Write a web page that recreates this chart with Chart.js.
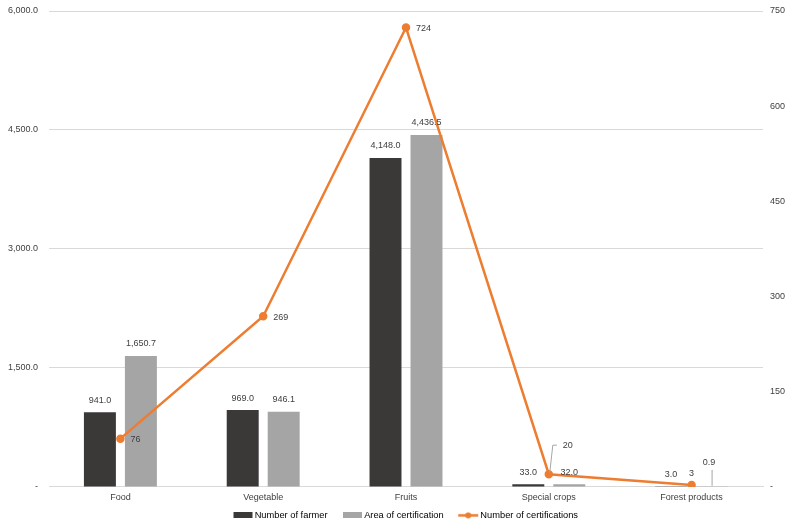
<!DOCTYPE html>
<html>
<head>
<meta charset="utf-8">
<script src="https://cdn.jsdelivr.net/npm/chart.js@4"></script>
<style>
  html, body { margin: 0; padding: 0; background: #fff; }
  #wrap { width: 799px; height: 532px; }
</style>
</head>
<body>
<div id="wrap"><canvas id="myChart" width="799" height="532"></canvas></div>
<script>
var categories = ["Food", "Vegetable", "Fruits", "Special crops", "Forest products"];
var farmers = [941.0, 969.0, 4148.0, 33.0, 3.0];
var areas = [1650.7, 946.1, 4436.5, 32.0, 0.9];
var certifications = [76, 269, 724, 20, 3];
var leftTicks = [0, 1500, 3000, 4500, 6000];
var rightTicks = [0, 150, 300, 450, 600, 750];

var FONT = "'Liberation Sans', Arial, sans-serif";
var ORANGE = "#ed7d31";

function fmt1(v) {
    return v.toLocaleString("en-US", {minimumFractionDigits: 1, maximumFractionDigits: 1});
}

// legend marker images, drawn toward the right so the text sits close
function boxImg(color) {
    var c = document.createElement("canvas");
    c.width = 38; c.height = 6;
    var g = c.getContext("2d");
    g.fillStyle = color;
    g.fillRect(17, 0, 19, 6);
    return c;
}
function lineImg() {
    var c = document.createElement("canvas");
    c.width = 38; c.height = 7;
    var g = c.getContext("2d");
    g.strokeStyle = ORANGE; g.lineWidth = 2.5;
    g.beginPath(); g.moveTo(16, 3.5); g.lineTo(36, 3.5); g.stroke();
    g.fillStyle = ORANGE;
    g.beginPath(); g.arc(26, 3.5, 3, 0, Math.PI * 2); g.fill();
    return c;
}

// label tweaks: key "dataset:index"
var labelTweaks = {
    "1:4": {dx: -3, dy: -12, leader: "bar"},
    "2:3": {callout: true},
    "2:4": {above: true}
};

var valueLabels = {
    id: "valueLabels",
    afterDatasetsDraw: function(chart) {
        var ctx = chart.ctx;
        ctx.save();
        ctx.font = "9px " + FONT;
        ctx.fillStyle = "#404040";
        ctx.textBaseline = "middle";
        chart.data.datasets.forEach(function(ds, di) {
            var meta = chart.getDatasetMeta(di);
            meta.data.forEach(function(el, i) {
                var tw = labelTweaks[di + ":" + i] || {};
                var v = ds.data[i];
                if (ds.type === "line") {
                    var txt = String(v);
                    if (tw.callout) {
                        ctx.strokeStyle = "#a6a6a6"; ctx.lineWidth = 1;
                        ctx.beginPath();
                        ctx.moveTo(el.x + 1, el.y - 2);
                        ctx.lineTo(el.x + 4, el.y - 29);
                        ctx.lineTo(el.x + 8, el.y - 29);
                        ctx.stroke();
                        ctx.textAlign = "left";
                        ctx.fillText(txt, el.x + 14, el.y - 29);
                    } else if (tw.above) {
                        ctx.textAlign = "center";
                        ctx.fillText(txt, el.x, el.y - 11);
                    } else {
                        ctx.textAlign = "left";
                        ctx.fillText(txt, el.x + 10, el.y + 1);
                    }
                } else {
                    ctx.textAlign = "center";
                    var ty = el.y - 12 + (tw.dy || 0);
                    var tx = el.x + (tw.dx || 0);
                    if (tw.leader) {
                        ctx.strokeStyle = "#a6a6a6"; ctx.lineWidth = 1;
                        ctx.beginPath();
                        ctx.moveTo(tx + 3, ty + 7);
                        ctx.lineTo(el.x, el.y - 1);
                        ctx.stroke();
                    }
                    ctx.fillText(fmt1(v), tx, ty);
                }
            });
        });
        ctx.restore();
    }
};

function tightY(s, w) {
    s.width = w;
    s.paddingTop = 5;
    s.paddingBottom = 5;
}

var ctx = document.getElementById("myChart").getContext("2d");
var markers = [boxImg("#3b3838"), boxImg("#a5a5a5"), lineImg()];

var chart = new Chart(ctx, {
    type: "bar",
    data: {
        labels: categories,
        datasets: [{
            label: "Number of farmer",
            data: farmers,
            backgroundColor: "#3b3838",
            yAxisID: "y",
            order: 1,
            categoryPercentage: 0.574,
            barPercentage: 0.78
        }, {
            label: "Area of certification",
            data: areas,
            backgroundColor: "#a5a5a5",
            yAxisID: "y",
            order: 1,
            categoryPercentage: 0.574,
            barPercentage: 0.78
        }, {
            type: "line",
            label: "Number of certifications",
            data: certifications,
            borderColor: ORANGE,
            backgroundColor: ORANGE,
            borderWidth: 2.5,
            pointRadius: 3,
            pointHoverRadius: 3,
            tension: 0,
            yAxisID: "y1",
            order: 0
        }]
    },
    options: {
        responsive: false,
        animation: false,
        layout: { padding: { top: 11, left: 0, right: 0, bottom: 2 } },
        scales: {
            x: {
                grid: { display: false, drawTicks: false },
                border: { display: true, color: "#d9d9d9" },
                ticks: { color: "#404040", font: { family: FONT, size: 9 }, padding: 5 }
            },
            y: {
                position: "left",
                min: 0, max: 6000,
                afterBuildTicks: function(s) { s.ticks = leftTicks.map(function(v) { return {value: v}; }); },
                afterFit: function(s) { tightY(s, 49); },
                grid: { color: "#d9d9d9", drawTicks: false },
                border: { display: false },
                ticks: {
                    color: "#404040", font: { family: FONT, size: 9 }, padding: 11,
                    callback: function(v) { return v === 0 ? "-" : fmt1(v); }
                }
            },
            y1: {
                position: "right",
                min: 0, max: 750,
                afterBuildTicks: function(s) { s.ticks = rightTicks.map(function(v) { return {value: v}; }); },
                afterFit: function(s) { tightY(s, 36); },
                grid: { display: false, drawTicks: false },
                border: { display: false },
                ticks: {
                    color: "#404040", font: { family: FONT, size: 9 }, padding: 7,
                    callback: function(v) { return v === 0 ? "-" : v; }
                }
            }
        },
        plugins: {
            title: { display: false },
            tooltip: { enabled: false },
            legend: {
                display: true,
                position: "bottom",
                labels: {
                    usePointStyle: true,
                    pointStyleWidth: 29,
                    boxHeight: 7,
                    padding: 3,
                    color: "#404040",
                    font: { family: FONT, size: 9.3 },
                    generateLabels: function(c) {
                        return c.data.datasets.map(function(ds, i) {
                            return {
                                text: ds.label,
                                pointStyle: markers[i],
                                fillStyle: ds.backgroundColor,
                                strokeStyle: ds.backgroundColor,
                                lineWidth: 0,
                                datasetIndex: i,
                                hidden: false
                            };
                        });
                    }
                }
            }
        }
    },
    plugins: [valueLabels]
});
</script>
</body>
</html>
